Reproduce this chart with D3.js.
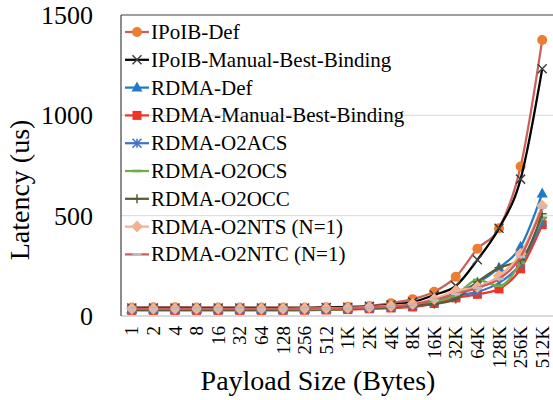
<!DOCTYPE html>
<html><head><meta charset="utf-8">
<script src="https://cdn.jsdelivr.net/npm/d3@7"></script>
<style>body{margin:0;background:#fff}svg{display:block}</style>
</head><body>
<script>
const categories = ["1","2","4","8","16","32","64","128","256","512","1K","2K","4K","8K","16K","32K","64K","128K","256K","512K"];
const seriesNames = ["IPoIB-Def","IPoIB-Manual-Best-Binding","RDMA-Def","RDMA-Manual-Best-Binding","RDMA-O2ACS","RDMA-O2OCS","RDMA-O2OCC","RDMA-O2NTS (N=1)","RDMA-O2NTC (N=1)"];
const ipoibDef    = [42,43,43,42,42,42,42,42,42,44,46,50,64,84,121,195,335,437,745,1375];
const ipoibManual = [40,40,40,40,40,40,40,40,40,42,44,48,55,70,105,150,280,437,682,1232];
const rdmaDef     = [34,34,34,34,34,34,34,34,35,36,38,42,48,58,80,115,165,240,345,610];
const rdmaManual  = [28,28,28,28,28,28,28,28,29,30,32,36,40,45,62,90,108,135,235,455];
const o2acs       = [32,32,32,32,32,32,32,32,33,34,36,40,44,52,70,100,120,165,260,470];
const o2ocs       = [30,30,30,30,30,30,30,30,31,32,34,38,42,50,70,105,180,150,265,490];
const o2occ       = [31,31,31,31,31,31,31,31,32,33,35,38,42,52,60,85,170,240,280,510];
const o2nts       = [36,36,36,36,36,36,36,36,37,38,40,44,50,60,85,125,145,200,310,550];
const o2ntc       = [35,35,35,35,35,35,35,35,36,37,39,43,48,58,80,110,140,185,295,540];
const yTicks = [0,500,1000,1500];

const series = [
  {name:seriesNames[0], values:ipoibDef,    line:"#C8625A", mk:"circle",   fill:"#ED7D31", stroke:"#ED7D31"},
  {name:seriesNames[1], values:ipoibManual, line:"#000000", mk:"x",        fill:"none",    stroke:"#404040"},
  {name:seriesNames[2], values:rdmaDef,     line:"#1F7BC4", mk:"triangle", fill:"#1F7BC4", stroke:"#1F7BC4"},
  {name:seriesNames[3], values:rdmaManual,  line:"#E8382C", mk:"square",   fill:"#EE3524", stroke:"#EE3524"},
  {name:seriesNames[4], values:o2acs,       line:"#4472C4", mk:"asterisk", fill:"none",    stroke:"#4472C4"},
  {name:seriesNames[5], values:o2ocs,       line:"#70AD47", mk:"dash",     fill:"none",    stroke:"#70AD47"},
  {name:seriesNames[6], values:o2occ,       line:"#5B5B3A", mk:"plus",     fill:"none",    stroke:"#5B5B3A"},
  {name:seriesNames[7], values:o2nts,       line:"#F4B190", mk:"diamond",  fill:"#F4B190", stroke:"#F4B190"},
  {name:seriesNames[8], values:o2ntc,       line:"#CD5C5C", mk:"dash",     fill:"none",    stroke:"#BFBFBF"}
];

const W=553,H=400;
const FONT="Liberation Serif";
const svg=d3.select("body").append("svg").attr("width",W).attr("height",H);
const x=d3.scaleBand().domain(categories).range([121,553]);
const y=d3.scaleLinear().domain([0,1500]).range([316,15]);

// gridlines
svg.append("g").selectAll("line").data(yTicks.filter(d=>d>0&&d<1500)).join("line")
  .attr("x1",121).attr("x2",W).attr("y1",d=>y(d)).attr("y2",d=>y(d))
  .attr("stroke","#d9d9d9").attr("stroke-width",1);
// x axis line
svg.append("line").attr("x1",121).attr("x2",W).attr("y1",y(0)).attr("y2",y(0)).attr("stroke","#d9d9d9").attr("stroke-width",2);
// border top/left
svg.append("line").attr("x1",121).attr("x2",W).attr("y1",y(1500)).attr("y2",y(1500)).attr("stroke","#404040").attr("stroke-width",1.2);
svg.append("line").attr("x1",121).attr("x2",121).attr("y1",y(1500)).attr("y2",y(0)).attr("stroke","#404040").attr("stroke-width",1.2);

// y tick labels
svg.append("g").selectAll("text").data(yTicks).join("text")
  .attr("font-family",FONT).attr("fill","#000")
  .attr("x",93).attr("y",d=>y(d)+9).attr("text-anchor","end").attr("font-size",26).text(d=>d);
// x tick labels
const cx=d=>x(d)+x.bandwidth()/2;
svg.append("g").selectAll("text").data(categories).join("text")
  .attr("font-family",FONT).attr("fill","#000")
  .attr("transform",d=>`translate(${cx(d)+6.5},326) rotate(-90)`)
  .attr("text-anchor","end").attr("font-size",19).text(d=>d);
// axis titles
svg.append("text").attr("font-family",FONT).attr("transform","translate(29,190) rotate(-90)").attr("text-anchor","middle").attr("font-size",28).text("Latency (us)");
svg.append("text").attr("font-family",FONT).attr("x",318).attr("y",390).attr("text-anchor","middle").attr("font-size",28).text("Payload Size (Bytes)");

function marker(g, s, px, py){
  const r=4.5;
  if(s.mk==="circle") g.append("circle").attr("cx",px).attr("cy",py).attr("r",5).attr("fill",s.fill);
  else if(s.mk==="square") g.append("rect").attr("x",px-4.5).attr("y",py-4.5).attr("width",9).attr("height",9).attr("fill",s.fill);
  else if(s.mk==="triangle") g.append("path").attr("d",`M${px},${py-6}L${px+5.5},${py+4}L${px-5.5},${py+4}Z`).attr("fill",s.fill);
  else if(s.mk==="diamond") g.append("path").attr("d",`M${px},${py-6}L${px+6},${py}L${px},${py+6}L${px-6},${py}Z`).attr("fill",s.fill);
  else if(s.mk==="x") g.append("path").attr("d",`M${px-r},${py-r}L${px+r},${py+r}M${px-r},${py+r}L${px+r},${py-r}`).attr("stroke",s.stroke).attr("stroke-width",1.5);
  else if(s.mk==="plus") g.append("path").attr("d",`M${px-r},${py}L${px+r},${py}M${px},${py-r}L${px},${py+r}`).attr("stroke",s.stroke).attr("stroke-width",1.5);
  else if(s.mk==="asterisk") g.append("path").attr("d",`M${px-r},${py-r}L${px+r},${py+r}M${px-r},${py+r}L${px+r},${py-r}M${px},${py-r}L${px},${py+r}`).attr("stroke",s.stroke).attr("stroke-width",1.5);
  else if(s.mk==="dash") g.append("path").attr("d",`M${px-r},${py}L${px+r},${py}`).attr("stroke",s.stroke).attr("stroke-width",2.5);
}

const line=d3.line().x((d,i)=>cx(categories[i])).y(d=>y(d)).curve(d3.curveMonotoneX);
series.forEach(s=>{
  const g=svg.append("g");
  g.append("path").attr("d",line(s.values)).attr("fill","none").attr("stroke",s.line).attr("stroke-width",2.25);
  s.values.forEach((v,i)=>marker(g,s,cx(categories[i]),y(v)));
});

// legend
const lg=svg.append("g");
series.forEach((s,i)=>{
  const ly=32+i*27.8;
  lg.append("line").attr("x1",125).attr("x2",149).attr("y1",ly).attr("y2",ly).attr("stroke",s.line).attr("stroke-width",2.25);
  marker(lg,s,137,ly);
  lg.append("text").attr("font-family",FONT).attr("fill","#000").attr("x",151).attr("y",ly+7).attr("font-size",21).text(s.name);
});
</script>
</body></html>
